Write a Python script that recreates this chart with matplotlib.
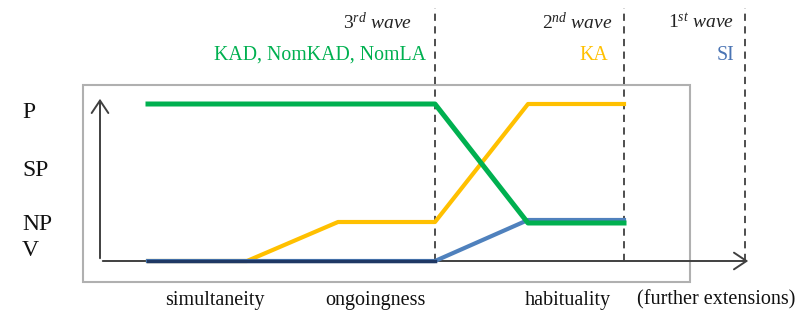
import matplotlib
matplotlib.use("Agg")
import matplotlib.pyplot as plt
from matplotlib.patches import Rectangle, FancyArrowPatch

plt.rcParams['font.family'] = ['Liberation Serif', 'DejaVu Serif']
plt.rcParams['mathtext.fontset'] = 'custom'
plt.rcParams['mathtext.rm'] = 'Liberation Serif'
plt.rcParams['mathtext.it'] = 'Liberation Serif:italic'

# stage positions along the horizontal axis (pixel-like units)
x_points = [148, 247, 338, 435, 528, 624]
# heights above the baseline for each series
green = [157, 157, 157, 157, 38, 38]
orange = [0, 0, 39, 39, 157, 157]
blue = [0, 0, 0, 0, 41, 41]

y_labels = ["P", "SP", "NP", "V"]
y_label_pos = [148, 91, 37, 10]
x_labels = ["simultaneity", "ongoingness", "habituality", "(further extensions)"]
x_label_pos = [215, 375, 568, 716]

wave_x = [435, 624, 745]
wave_titles = [r"$\mathit{3^{rd}}$ wave", r"$\mathit{2^{nd}}$ wave", r"$\mathit{1^{st}}$ wave"]
wave_title_off = [23, 11, 11]
wave_groups = ["KAD, NomKAD, NomLA", "KA", "SI"]
wave_group_off = [9, 16, 11]
wave_colors = ["#00b050", "#ffc000", "#4a74b4"]

BASE = 261
fig = plt.figure(figsize=(7.96, 3.25), dpi=100)
ax = fig.add_axes([0, 0, 1, 1])
ax.set_xlim(0, 796)
ax.set_ylim(-(325 - BASE), BASE)
ax.axis('off')

# outer box
ax.add_patch(Rectangle((83, -(282 - BASE)), 690 - 83, 282 - 85, fill=False,
                       edgecolor='#b0b0b0', linewidth=1.5))

# dashed wave lines
for wx in wave_x:
    ax.plot([wx, wx], [0, BASE - 8], color='#404040', linestyle=(0, (4, 3)), linewidth=1.3, zorder=2)

# axes arrows
ax.add_patch(FancyArrowPatch((100, 0), (100, BASE - 96), arrowstyle='->,head_length=6,head_width=4',
                             color='#404040', linewidth=1.4, mutation_scale=1.5, zorder=3))
ax.add_patch(FancyArrowPatch((100, 0), (751, 0), arrowstyle='->,head_length=6,head_width=4',
                             color='#404040', linewidth=1.4, mutation_scale=1.5, zorder=3))

# series
ax.plot(x_points, orange, color='#ffc000', linewidth=3, zorder=4)
ax.plot(x_points, blue, color='#4f81bd', linewidth=3, zorder=5)
ax.plot(x_points[:4], blue[:4], color='#1f3864', linewidth=2.5, zorder=5)
ax.plot(x_points, green, color='#00b050', linewidth=3.6, zorder=6)

# y labels
for lab, yp in zip(y_labels, y_label_pos):
    ax.text(22, yp, lab, fontsize=17, ha='left', va='center', color='#111111')

# x labels
for lab, xp in zip(x_labels, x_label_pos):
    ax.text(xp, -(300 - BASE), lab, fontsize=14.5, ha='center', va='center', color='#111111')

# wave titles and groups
for wx, t, to, g, go, c in zip(wave_x, wave_titles, wave_title_off, wave_groups, wave_group_off, wave_colors):
    ax.text(wx - to, BASE - 22, t, fontsize=14, style='italic', ha='right', va='center', color='#222222')
    ax.text(wx - go, BASE - 55, g, fontsize=14.3, ha='right', va='center', color=c)

fig.savefig("out.png", dpi=100)
